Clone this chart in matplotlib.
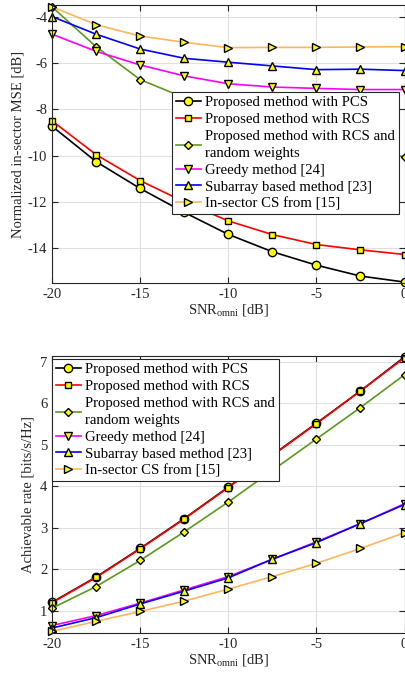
import numpy as np
import matplotlib
matplotlib.use("Agg")
import matplotlib.pyplot as plt

plt.rcParams["font.family"] = ["Liberation Serif", "DejaVu Serif"]
plt.rcParams["mathtext.fontset"] = "custom"
plt.rcParams["mathtext.rm"] = "Liberation Serif"
plt.rcParams["font.size"] = 10.5

# SNR grid shared by both panels
snr = [-20, -17.5, -15, -12.5, -10, -7.5, -5, -2.5, 0]

labels = [
    "Proposed method with PCS",
    "Proposed method with RCS",
    "Proposed method with RCS and\nrandom weights",
    "Greedy method [24]",
    "Subarray based method [23]",
    "In-sector CS from [15]",
]

# normalized in-sector MSE [dB]
mse_pcs = [-8.73, -10.26, -11.42, -12.45, -13.40, -14.15, -14.73, -15.20, -15.46]
mse_rcs = [-8.50, -9.96, -11.08, -12.00, -12.82, -13.41, -13.84, -14.07, -14.27]
mse_rand = [-3.58, -5.30, -6.72, -7.50, -8.25, -8.85, -9.35, -9.75, -10.05]
mse_greedy = [-4.76, -5.50, -6.09, -6.56, -6.90, -7.04, -7.10, -7.15, -7.15]
mse_subarray = [-4.00, -4.76, -5.40, -5.80, -5.97, -6.13, -6.29, -6.27, -6.33]
mse_insector = [-3.58, -4.35, -4.84, -5.11, -5.34, -5.33, -5.33, -5.31, -5.30]

# achievable rate [bits/s/Hz]
rate_pcs = [1.20, 1.81, 2.50, 3.22, 3.98, 4.75, 5.52, 6.30, 7.12]
rate_rcs = [1.19, 1.80, 2.49, 3.21, 3.97, 4.74, 5.51, 6.30, 7.10]
rate_rand = [1.06, 1.58, 2.21, 2.90, 3.62, 4.38, 5.14, 5.90, 6.69]
rate_greedy = [0.64, 0.88, 1.18, 1.50, 1.82, 2.24, 2.66, 3.10, 3.58]
rate_subarray = [0.58, 0.83, 1.16, 1.47, 1.79, 2.24, 2.64, 3.10, 3.56]
rate_insector = [0.50, 0.74, 0.98, 1.23, 1.52, 1.82, 2.14, 2.50, 2.88]

colors = ["black", "red", "#5b9a1c", "#ff00ff", "#0000ff", "#ffb45e"]
markers = ["o", "s", "D", "v", "^", ">"]
msizes = [6, 5, 4.5, 6, 6, 6]


def style_axes(ax):
    ax.grid(True, color="#e0e0e0", linewidth=0.8)
    ax.set_axisbelow(True)
    ax.tick_params(direction="in", top=True, right=True, colors="#262626",
                   labelsize=10.5, length=4)
    for s in ax.spines.values():
        s.set_color("#262626")
        s.set_linewidth(0.8)
    ax.set_xlim(-20, 0)
    ax.set_xticks([-20, -15, -10, -5, 0])
    ax.set_xticklabels(["-20", "-15", "-10", "-5", "0"])
    ax.set_xlabel(r"SNR$_{\mathrm{omni}}$ [dB]", color="#262626", labelpad=1)


def draw(ax, series):
    for ys, lab, c, m, ms in zip(series, labels, colors, markers, msizes):
        ax.plot(snr, ys, color=c, marker=m, markersize=ms, markerfacecolor="#ffff00",
                markeredgecolor="black", markeredgewidth=1.0, linewidth=1.2,
                label=lab, clip_on=False)


def add_legend(ax, anchor):
    leg = ax.legend(loc="upper left", bbox_to_anchor=anchor, borderaxespad=0,
                    fancybox=False, edgecolor="#262626", framealpha=1,
                    handlelength=1.7, handletextpad=0.3, labelspacing=0.25,
                    borderpad=0.25, fontsize=10.6)
    leg.get_frame().set_linewidth(0.8)
    for t in leg.get_texts():
        t.set_linespacing(1.4)


fig = plt.figure(figsize=(4.05, 6.78), dpi=100)

ax1 = fig.add_axes([52 / 405, 1 - 283 / 678, 352.5 / 405, 278 / 678])
draw(ax1, [mse_pcs, mse_rcs, mse_rand, mse_greedy, mse_subarray, mse_insector])
style_axes(ax1)
ax1.set_ylim(-15.5, -3.5)
ax1.set_yticks([-14, -12, -10, -8, -6, -4])
ax1.set_yticklabels(["-14", "-12", "-10", "-8", "-6", "-4"])
ax1.set_ylabel("Normalized in-sector MSE [dB]", color="#262626", labelpad=2)
add_legend(ax1, (0.341, 0.687))

ax2 = fig.add_axes([52 / 405, 1 - 633 / 678, 352.5 / 405, 277.3 / 678])
draw(ax2, [rate_pcs, rate_rcs, rate_rand, rate_greedy, rate_subarray, rate_insector])
style_axes(ax2)
ax2.set_ylim(0.46, 7.15)
ax2.set_yticks([1, 2, 3, 4, 5, 6, 7])
ax2.set_ylabel("Achievable rate [bits/s/Hz]", color="#262626", labelpad=4)
add_legend(ax2, (0.0, 0.988))

fig.savefig("out.png", dpi=100)
